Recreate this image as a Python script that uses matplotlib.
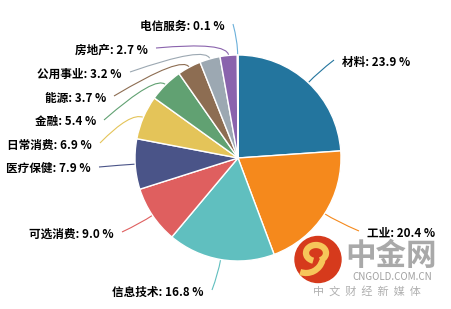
import matplotlib.pyplot as plt
import numpy as np
from matplotlib.path import Path
from matplotlib.patches import PathPatch, Circle, Arc

plt.rcParams['font.family'] = ['Noto Sans CJK SC', 'DejaVu Sans']

# data
sectors = ['材料', '工业', '信息技术', '可选消费', '医疗保健', '日常消费',
           '金融', '能源', '公用事业', '房地产', '电信服务']
shares = [23.9, 20.4, 16.8, 9.0, 7.9, 6.9, 5.4, 3.7, 3.2, 2.7, 0.1]
colors = ['#23759e', '#f5891c', '#60bfbf', '#df5f5f', '#4a5488', '#e4c459',
          '#61a172', '#8d6d52', '#9ca8b2', '#8a63ad', '#6bb0da']

# layout: leader line end points (pixels, y down)
label_ends = [(334, 60), (359, 231), (212, 290), (122, 232), (99, 167),
              (100, 143), (104, 120), (114, 96), (130, 72), (156, 48), (233, 24)]

W, H = 452, 309
cx, cy, R = 238, 158, 103

fig = plt.figure(figsize=(W / 100, H / 100), dpi=100)
ax = fig.add_axes([0, 0, 1, 1])

# watermark
ax.add_patch(Circle((318, H - 259.5), 23, color='#d63a1c', zorder=1))
ax.add_patch(Arc((316, H - 253), 20, 16, theta1=-60, theta2=250, color='#f6c65a', lw=4.5, zorder=2))
ax.add_patch(Arc((306, H - 256), 34, 34, theta1=250, theta2=345, color='#f6c65a', lw=4.5, zorder=2))
ax.text(391, H - 256, '中金网', fontsize=22, fontweight='bold', color='#a9a9a9',
        ha='center', va='center', zorder=1)
ax.text(392, H - 277, 'CNGOLD.COM.CN', fontsize=7, color='#a0a0a0',
        ha='center', va='center', zorder=1)
ax.text(367, H - 291, '中  文  财  经  新  媒  体', fontsize=8, color='#b0b0b0',
        ha='center', va='center', zorder=1)

wedges, _ = ax.pie(shares, colors=colors, startangle=90, counterclock=False,
                   center=(cx, H - cy), radius=R, frame=True,
                   wedgeprops=dict(edgecolor='white', linewidth=1))
for w in wedges:
    w.set_zorder(3)
ax.set_xlim(0, W)
ax.set_ylim(0, H)
ax.set_aspect('equal')
ax.axis('off')

for w, name, val, col, end in zip(wedges, sectors, shares, colors, label_ends):
    ang = np.deg2rad((w.theta1 + w.theta2) / 2)
    p0 = (cx + R * np.cos(ang), H - cy + R * np.sin(ang))
    p1 = (cx + (R + 14) * np.cos(ang), H - cy + (R + 14) * np.sin(ang))
    p2 = (end[0], H - end[1])
    path = Path([p0, p1, p2], [Path.MOVETO, Path.CURVE3, Path.CURVE3])
    ax.add_patch(PathPatch(path, fill=False, edgecolor=col, lw=0.8, zorder=2))
    right = end[0] > cx
    tx = end[0] + 8 if right else end[0] - 8
    ax.text(tx, H - end[1] - 2, f'{name}: {val:.1f} %', fontsize=8.4, fontweight='bold',
            ha='left' if right else 'right', va='center', color='black', zorder=5)

fig.savefig('out.png', dpi=100)
